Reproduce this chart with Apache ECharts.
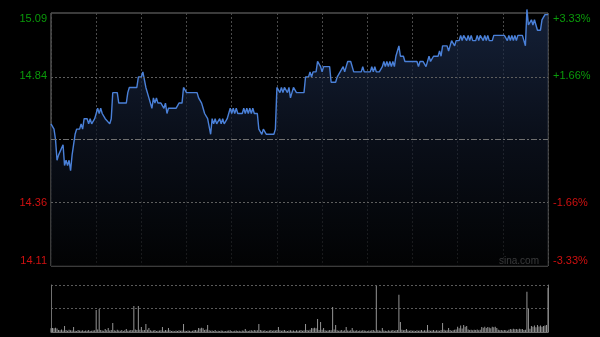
<!DOCTYPE html>
<html><head><meta charset="utf-8">
<script src="https://cdn.jsdelivr.net/npm/echarts@6/dist/echarts.min.js"></script>
<style>html,body{margin:0;padding:0;background:#000;}#c{width:600px;height:337px;}</style>
</head><body><div id="c"></div>
<script>
// Previous close and percentage band of the intraday chart
const prevClose = 14.60;
const pctLevels = [-3.33, -1.66, 1.66, 3.33];
const sessionMinutes = 330; // 09:30-12:00, 13:00-16:00
const halfHour = 30;

// Intraday price trace: [minute index, price]
const priceTrace = [
[0,14.66],[2,14.64],[3,14.60],[4,14.52],[5,14.54],[6,14.54],[8,14.58],[9,14.50],[10,14.52],[11,14.50],[12,14.52],[13,14.48],[14,14.54],[15,14.58],[16,14.62],[17,14.64],[19,14.64],[20,14.66],[21,14.64],[22,14.68],[24,14.68],[25,14.66],[26,14.68],[27,14.66],[29,14.68],[30,14.70],[31,14.72],[32,14.70],[33,14.72],[34,14.70],[35,14.70],[36,14.68],[37,14.68],[39,14.66],[40,14.68],[41,14.78],[42,14.78],[44,14.78],[45,14.74],[50,14.74],[51,14.78],[52,14.80],[57,14.80],[58,14.84],[60,14.84],[61,14.86],[62,14.86],[63,14.80],[64,14.80],[65,14.76],[66,14.76],
[67,14.72],[68,14.76],[69,14.74],[70,14.76],[71,14.74],[72,14.74],[73,14.74],[75,14.72],[76,14.74],[77,14.70],[78,14.72],[83,14.72],[85,14.74],[87,14.74],[88,14.80],[89,14.80],[90,14.78],[97,14.78],[98,14.76],[100,14.74],[101,14.72],[102,14.70],[103,14.70],[104,14.68],[106,14.62],[107,14.68],[108,14.66],[109,14.68],[110,14.66],[112,14.68],[113,14.66],[114,14.68],[115,14.66],[117,14.68],[118,14.68],[119,14.72],[120,14.70],[121,14.72],[122,14.70],[123,14.72],[124,14.70],[127,14.70],[128,14.72],[129,14.70],[130,14.72],[131,14.70],[132,14.72],
[133,14.70],[134,14.72],[135,14.70],[137,14.70],[138,14.64],[140,14.62],[141,14.64],[143,14.62],[148,14.62],[149,14.64],[150,14.80],[151,14.80],[152,14.78],[153,14.80],[154,14.78],[155,14.80],[157,14.78],[158,14.80],[159,14.76],[160,14.78],[161,14.80],[162,14.80],[163,14.78],[168,14.78],[169,14.84],[171,14.84],[172,14.86],[173,14.84],[174,14.86],[176,14.86],[177,14.90],[179,14.88],[180,14.86],[181,14.88],[185,14.88],[186,14.82],[189,14.82],[190,14.84],[191,14.84],[192,14.86],[193,14.86],[194,14.88],[195,14.86],[196,14.88],[197,14.90],[199,14.90],
[200,14.90],[201,14.86],[206,14.86],[207,14.88],[208,14.86],[212,14.86],[213,14.88],[214,14.86],[215,14.88],[216,14.86],[218,14.86],[220,14.88],[221,14.90],[222,14.88],[223,14.90],[224,14.88],[225,14.90],[226,14.88],[227,14.90],[228,14.88],[229,14.92],[231,14.96],[232,14.92],[234,14.92],[235,14.90],[243,14.90],[244,14.88],[245,14.90],[247,14.90],[249,14.88],[250,14.88],[251,14.92],[252,14.90],[254,14.92],[257,14.92],[258,14.94],[259,14.92],[260,14.96],[263,14.96],[264,14.94],[265,14.94],
[266,14.98],[268,14.96],[269,14.98],[271,14.98],[272,15.00],[273,14.98],[274,15.00],[276,14.98],[277,15.00],[278,14.98],[279,15.00],[280,14.98],[282,14.98],[283,15.00],[284,14.98],[285,15.00],[287,14.98],[288,15.00],[289,14.98],[290,15.00],[291,14.98],[293,14.98],[294,15.00],[295,15.00],[301,15.00],[303,14.98],[304,15.00],[305,14.98],[306,15.00],[307,14.98],[308,15.00],[309,14.98],[310,15.00],[313,15.00],[314,14.98],[315,14.96],[316,15.10],[317,15.04],[318,15.04],[319,15.06],[320,15.04],[321,15.06],[322,15.04],[323,15.02],[325,15.02],[326,15.06],[327,15.06],[328,15.08],[330,15.08]
];

// Per-minute volume (minute 0..330)
const volumes = [
180,190,170,200,160,90,80,120,70,280,
90,60,110,80,70,230,60,50,90,70,
60,80,50,70,60,90,50,60,70,80,
1030,120,1080,90,70,60,140,80,190,70,
90,420,80,60,110,70,60,90,50,80,
140,60,70,90,80,1220,120,90,1220,110,
230,80,90,375,100,190,80,60,70,90,
50,60,70,80,230,60,90,70,190,80,
50,60,40,70,50,80,60,70,375,60,
50,70,60,40,60,80,90,70,190,160,
200,180,90,120,330,80,60,70,50,90,
40,60,50,70,60,40,50,60,70,80,
50,40,60,70,50,60,40,70,60,140,
60,50,70,80,60,90,70,80,375,90,
70,60,80,50,60,70,90,60,80,70,
90,230,80,60,70,90,60,50,70,80,
60,70,50,80,60,70,90,60,80,375,
90,70,110,190,170,200,180,610,90,470,
100,190,80,60,70,90,80,1170,120,330,
80,60,70,90,60,80,230,70,60,80,
190,70,60,80,50,70,60,80,70,60,
50,70,60,80,90,60,2150,80,70,60,
190,70,60,50,80,60,70,90,60,80,
90,1740,470,110,80,90,140,70,60,80,
60,70,50,80,60,70,90,60,80,70,
330,80,60,70,90,60,80,70,60,90,
420,110,70,80,190,90,60,80,100,120,
250,180,300,160,330,240,280,120,90,110,
80,100,90,120,80,110,230,200,250,190,
230,210,180,240,220,250,190,100,80,90,
70,90,80,60,110,140,120,150,130,140,
120,150,130,140,90,110,1880,1080,150,280,
250,300,220,330,260,310,240,280,300,330,
2070
];
const volumeMax = 2200;

const yMin = prevClose * (1 + pctLevels[0] / 100);
const yMax = prevClose * (1 + pctLevels[pctLevels.length - 1] / 100);
const levelValues = pctLevels.map(p => prevClose * (1 + p / 100));
const UP = '#0a9a0a', DOWN = '#d01010';
const FONT = 'Liberation Sans';

const chart = echarts.init(document.getElementById('c'), null, {renderer: 'canvas'});
chart.setOption({
  backgroundColor: '#000',
  animation: false,
  grid: [
    {left: 51, top: 13, width: 497, height: 253, show: true, borderColor: '#777777', borderWidth: 1, outerBoundsMode: 'none'},
    {left: 51, top: 285, width: 497, height: 47, show: false, outerBoundsMode: 'none'}
  ],
  xAxis: [
    {gridIndex: 0, type: 'value', min: 0, max: sessionMinutes, interval: halfHour,
     axisLine: {show: false}, axisTick: {show: false}, axisLabel: {show: false},
     splitLine: {show: true, lineStyle: {color: '#4a4a4a', type: [2, 2], width: 1}}},
    {gridIndex: 1, type: 'value', min: 0, max: sessionMinutes, interval: halfHour,
     axisLine: {show: true, lineStyle: {color: '#707070'}}, axisTick: {show: false}, axisLabel: {show: false},
     splitLine: {show: false}}
  ],
  yAxis: [
    {gridIndex: 0, type: 'value', min: yMin, max: yMax, position: 'left',
     axisLine: {show: false}, axisTick: {show: false}, splitLine: {show: false},
     axisLabel: {customValues: levelValues, formatter: v => v.toFixed(2),
       color: v => (parseFloat(v) > prevClose ? UP : DOWN), fontSize: 11, fontFamily: FONT, margin: 4,
       verticalAlignMinLabel: 'bottom', verticalAlignMaxLabel: 'top'}},
    {gridIndex: 0, type: 'value', min: yMin, max: yMax, position: 'right',
     axisLine: {show: false}, axisTick: {show: false}, splitLine: {show: false},
     axisLabel: {customValues: levelValues,
       formatter: v => { const p = (v - prevClose) / prevClose * 100; return (p > 0 ? '+' : '') + p.toFixed(2) + '%'; },
       color: v => (parseFloat(v) > prevClose ? UP : DOWN), fontSize: 11, fontFamily: FONT, margin: 5,
       verticalAlignMinLabel: 'bottom', verticalAlignMaxLabel: 'top'}},
    {gridIndex: 1, type: 'value', min: 0, max: volumeMax, interval: volumeMax / 2, position: 'left',
     axisLine: {show: true, lineStyle: {color: '#707070'}}, axisTick: {show: false}, axisLabel: {show: false},
     splitLine: {show: true, lineStyle: {color: '#5a5a5a', type: [2, 2]}}},
    {gridIndex: 1, type: 'value', min: 0, max: volumeMax, position: 'right',
     axisLine: {show: true, lineStyle: {color: '#707070'}}, axisTick: {show: false}, axisLabel: {show: false},
     splitLine: {show: false}}
  ],
  graphic: [
    {type: 'text', left: 499, top: 256, style: {text: 'sina.com', fill: '#b0b0b0', font: '10px "Liberation Sans"'}}
  ],
  series: [
    {type: 'line', xAxisIndex: 0, yAxisIndex: 0, data: priceTrace, showSymbol: false, clip: false,
     lineStyle: {color: '#4a80d8', width: 1.4},
     areaStyle: {color: new echarts.graphic.LinearGradient(0, 0, 0, 1, [
       {offset: 0, color: '#1d2e4f'}, {offset: 0.5, color: '#0e1524'}, {offset: 1, color: '#030405'}])},
     markLine: {silent: true, symbol: 'none', label: {show: false}, animation: false,
       data: [
         {yAxis: levelValues[1], lineStyle: {color: '#5e5e5e', type: [2, 2], width: 1}},
         {yAxis: levelValues[2], lineStyle: {color: '#5e5e5e', type: [2, 2], width: 1}},
         {yAxis: prevClose, lineStyle: {color: '#707070', type: [6, 2, 2, 2], width: 1}}
       ]}
    },
    {type: 'bar', xAxisIndex: 1, yAxisIndex: 2, data: volumes.map((v, i) => [i, v]),
     barWidth: 1, itemStyle: {color: '#959595'}, silent: true}
  ]
});
</script></body></html>
